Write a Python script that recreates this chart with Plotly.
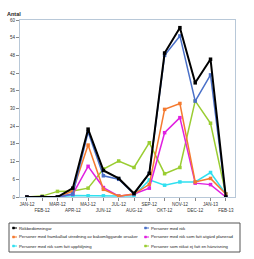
import plotly.graph_objects as go

months = ["JAN-12", "FEB-12", "MAR-12", "APR-12", "MAJ-12", "JUN-12", "JUL-12",
          "AUG-12", "SEP-12", "OKT-12", "NOV-12", "DEC-12", "JAN-13", "FEB-13"]

rokbedomningar = [0, 0, 0, 3, 23, 9, 6.3, 1.2, 8, 48.8, 57.4, 38.7, 46.7, 0]
med_rok = [0, 0, 0, 1, 22, 7.2, 6, 1, 8, 48, 54.6, 32.5, 41.4, 0]
framkallad = [0, 0, 0, 2, 17.6, 2.6, 0.3, 1, 4.3, 29.7, 31.7, 5.1, 6.3, 1]
atgard = [0, 0, 0, 1, 10.4, 3.2, 0.3, 1, 3, 21.8, 26.9, 4.7, 4.2, 0]
uppfoljning = [0, 0, 0, 0.5, 0.4, 0.4, 0.3, 0.4, 5.8, 4, 5.1, 5.1, 8.3, 1]
hanvisning = [0, 0.3, 1.9, 2, 3, 9.5, 12.2, 10, 18.4, 7.9, 10, 32.6, 25, 1]

y_ticks = [0, 6, 12, 18, 24, 30, 36, 42, 48, 54, 60]

# (name, values, color, line width, legend column, legend row)
series = [
    ("Personer som rökat ej fått en hänvisning", hanvisning, "#9acd32", 1.5, 1, 2),
    ("Personer med rök som fått uppföljning", uppfoljning, "#30e0f0", 1.5, 0, 2),
    ("Personer med rök som fått åtgärd planerad", atgard, "#e020e0", 1.5, 1, 1),
    ("Personer med framkallad utredning av bakomliggande orsaker", framkallad, "#f47a30", 1.5, 0, 1),
    ("Personer med rök", med_rok, "#4a70c8", 1.5, 1, 0),
    ("Rökbedömningar", rokbedomningar, "#000000", 2, 0, 0),
]

W, H = 254, 259
L, R, T, B = 20, 19, 20, 62
pw, ph = W - L - R, H - T - B


def px2x(px):
    return (px - L) / pw


def py2y(py):
    return (H - B - py) / ph


fig = go.Figure()
shapes = []
annotations = [dict(text="<b>Antal</b>", x=px2x(14), y=py2y(14), xref="paper", yref="paper",
                    xanchor="center", yanchor="middle", showarrow=False,
                    font=dict(size=5.5, color="#222"))]

# legend box
shapes.append(dict(type="rect", xref="paper", yref="paper",
                   x0=px2x(9), x1=px2x(240), y0=py2y(252), y1=py2y(223),
                   line=dict(color="#555", width=1), fillcolor="white"))

col_x = [14, 146]
row_y = [228, 237, 246]

for name, vals, color, lw, col, row in series:
    fig.add_trace(go.Scatter(
        x=list(range(len(months))), y=vals, name=name, mode="lines+markers",
        line=dict(color=color, width=lw), marker=dict(color=color, size=3.5, symbol="square"),
        showlegend=False,
    ))
    cx, cy = col_x[col], row_y[row]
    shapes.append(dict(type="line", xref="paper", yref="paper",
                       x0=px2x(cx - 1), x1=px2x(cx + 3), y0=py2y(cy), y1=py2y(cy),
                       line=dict(color=color, width=1)))
    shapes.append(dict(type="rect", xref="paper", yref="paper",
                       x0=px2x(cx - 1.5), x1=px2x(cx + 0.5), y0=py2y(cy + 1), y1=py2y(cy - 1),
                       line=dict(color=color, width=0.5), fillcolor=color))
    annotations.append(dict(text=name, x=px2x(cx + 3), y=py2y(cy), xref="paper", yref="paper",
                            xanchor="left", yanchor="middle", showarrow=False,
                            font=dict(size=4.3, color="#222")))

ticktext = [m if i % 2 == 0 else "<br>" + m for i, m in enumerate(months)]

fig.update_layout(
    width=W, height=H,
    margin=dict(l=L, r=R, t=T, b=B, autoexpand=False),
    paper_bgcolor="white", plot_bgcolor="white",
    font=dict(family="Liberation Sans Narrow, Arial Narrow, Liberation Sans", size=5, color="#333"),
    showlegend=False,
    shapes=shapes,
    annotations=annotations,
)
fig.update_xaxes(
    range=[-0.45, 13.6], tickmode="array", tickvals=list(range(len(months))), ticktext=ticktext,
    tickangle=0, ticks="outside", ticklen=3, tickcolor="#888", showgrid=False,
    showline=True, linecolor="#b8c8d8", mirror=True, zeroline=False,
    tickfont=dict(size=4.5), automargin=False,
)
fig.update_yaxes(
    range=[0, 60], tickmode="array", tickvals=y_ticks, ticks="outside", ticklen=3,
    tickcolor="#888", showgrid=False, showline=True, linecolor="#b8c8d8", mirror=True,
    zeroline=False, tickfont=dict(size=4.5), automargin=False,
)

fig.write_html("out.html")
